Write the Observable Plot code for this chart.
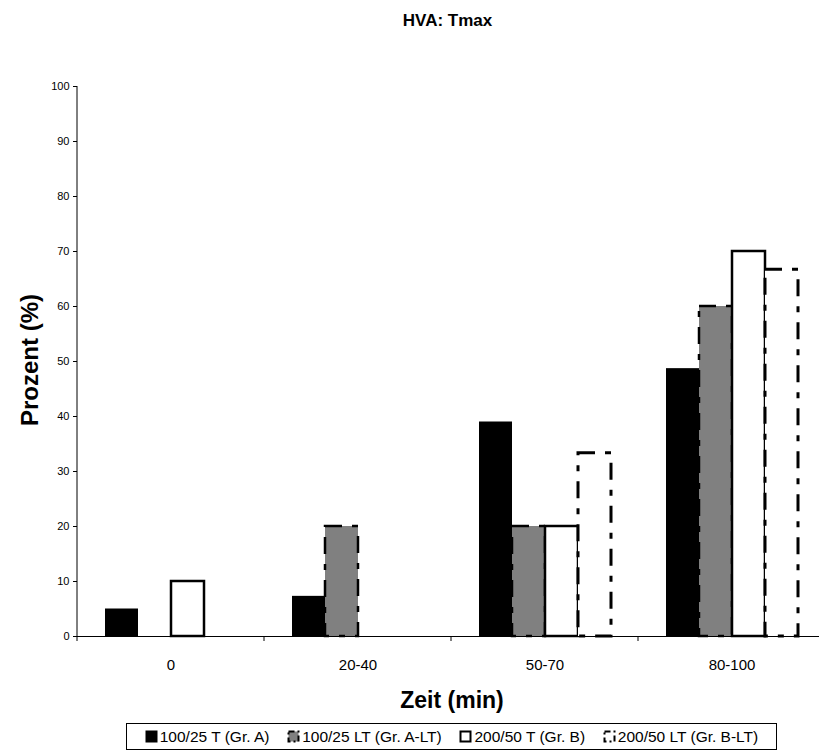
<!DOCTYPE html>
<html>
<head>
<meta charset="utf-8">
<script src="https://cdn.jsdelivr.net/npm/d3@7"></script>
<script src="https://cdn.jsdelivr.net/npm/@observablehq/plot@0.6"></script>
<style>
  html, body { margin: 0; padding: 0; background: #fff; }
  #wrap { position: relative; width: 819px; height: 753px; font-family: "Liberation Sans", Arial, sans-serif; color: #000; overflow: hidden; }
  #chart { position: absolute; left: 0; top: 0; }
  .title { position: absolute; left: 76px; width: 743px; top: 11px; text-align: center; font-weight: bold; font-size: 17px; }
  .ytitle { position: absolute; left: 30px; top: 360px; transform: translate(-50%, -50%) rotate(-90deg); white-space: nowrap; font-weight: bold; font-size: 24px; }
  .xtitle { position: absolute; left: 452px; top: 700px; transform: translate(-50%, -50%); white-space: nowrap; font-weight: bold; font-size: 23px; }
  #legend { position: absolute; left: 126px; top: 723px; width: 651px; height: 27px; border: 1px solid #000; box-sizing: border-box; display: flex; align-items: center; justify-content: space-evenly; font-size: 15.5px; white-space: nowrap; }
  #legend .item { display: flex; align-items: center; }
  #legend svg { margin-right: 2px; }
</style>
</head>
<body>
<div id="wrap">
  <div id="chart"></div>
  <div class="title">HVA: Tmax</div>
  <div class="ytitle">Prozent (%)</div>
  <div class="xtitle">Zeit (min)</div>
  <div id="legend"></div>
</div>
<script>
// ---- data ----
const categories = ["0", "20-40", "50-70", "80-100"];
const seriesNames = ["100/25 T (Gr. A)", "100/25 LT (Gr. A-LT)", "200/50 T (Gr. B)", "200/50 LT (Gr. B-LT)"];
const valuesA   = [5, 7.3, 39, 48.7];
const valuesALT = [0, 20, 20, 60];
const valuesB   = [10, 0, 20, 70];
const valuesBLT = [0, 0, 33.3, 66.7];
const yTicks = [0, 10, 20, 30, 40, 50, 60, 70, 80, 90, 100];

// ---- styles (per series) ----
const seriesValues = [valuesA, valuesALT, valuesB, valuesBLT];
const styles = [
  {fill: "#000000", stroke: "none", strokeWidth: 0, dash: null},
  {fill: "#808080", stroke: "#000000", strokeWidth: 2.5, dash: "17,10,6,10"},
  {fill: "#ffffff", stroke: "#000000", strokeWidth: 2.5, dash: null},
  {fill: "#ffffff", stroke: "#000000", strokeWidth: 3, dash: "17,10,6,10"}
];

const table = [];
categories.forEach((c, i) => {
  seriesNames.forEach((s, j) => {
    table.push({cat: c, series: s, value: seriesValues[j][i]});
  });
});

const barMarks = seriesNames.map((s, j) => Plot.barY(table, {
  filter: d => d.series === s && d.value > 0,
  fx: "cat",
  x: "series",
  y: "value",
  fill: styles[j].fill,
  stroke: styles[j].stroke,
  strokeWidth: styles[j].strokeWidth,
  strokeDasharray: styles[j].dash,
  inset: 0
}));

const plot = Plot.plot({
  width: 819,
  height: 720,
  marginTop: 86,
  marginBottom: 84,
  marginLeft: 76,
  marginRight: -7,
  style: {fontFamily: "'Liberation Sans', Arial, sans-serif", background: "transparent", color: "#000"},
  fx: {domain: categories, padding: 0, label: null, axis: null},
  x: {domain: seriesNames, paddingInner: 0, paddingOuter: 0.757, axis: null},
  y: {domain: [0, 100], axis: null},
  marks: [
    Plot.axisY({ticks: yTicks, tickSize: 4, tickPadding: 4, fontSize: 11, label: null}),
    Plot.axisFx({anchor: "bottom", tickSize: 0, tickPadding: 23, fontSize: 15, label: null}),
    ...barMarks,
    Plot.ruleY([0], {stroke: "#000", strokeWidth: 1})
  ]
});
document.getElementById("chart").appendChild(plot);

// axis line and category boundary ticks, positioned with the plot's own scales
const fx = plot.scale("fx");
const y = plot.scale("y");
const bounds = categories.map(c => fx.apply(c));
bounds.push(fx.apply(categories[categories.length - 1]) + fx.bandwidth);
const svg = d3.select(plot);
const g = svg.append("g").attr("stroke", "#000");
g.append("line")
  .attr("x1", bounds[0]).attr("x2", bounds[0])
  .attr("y1", y.apply(0)).attr("y2", y.apply(100));
g.selectAll("line.b").data(bounds).join("line").attr("class", "b")
  .attr("x1", d => d).attr("x2", d => d)
  .attr("y1", y.apply(0)).attr("y2", y.apply(0) + 5);

// legend
const legend = d3.select("#legend");
seriesNames.forEach((s, j) => {
  const item = legend.append("div").attr("class", "item");
  const sw = item.append("svg").attr("width", 13).attr("height", 13);
  sw.append("rect")
    .attr("x", 1.5).attr("y", 1.5).attr("width", 10).attr("height", 10)
    .attr("fill", styles[j].fill)
    .attr("stroke", styles[j].stroke === "none" ? "#000" : styles[j].stroke)
    .attr("stroke-width", 2)
    .attr("stroke-dasharray", styles[j].dash ? "6,3,2,3" : null);
  item.append("span").text(s);
});
</script>
</body>
</html>
